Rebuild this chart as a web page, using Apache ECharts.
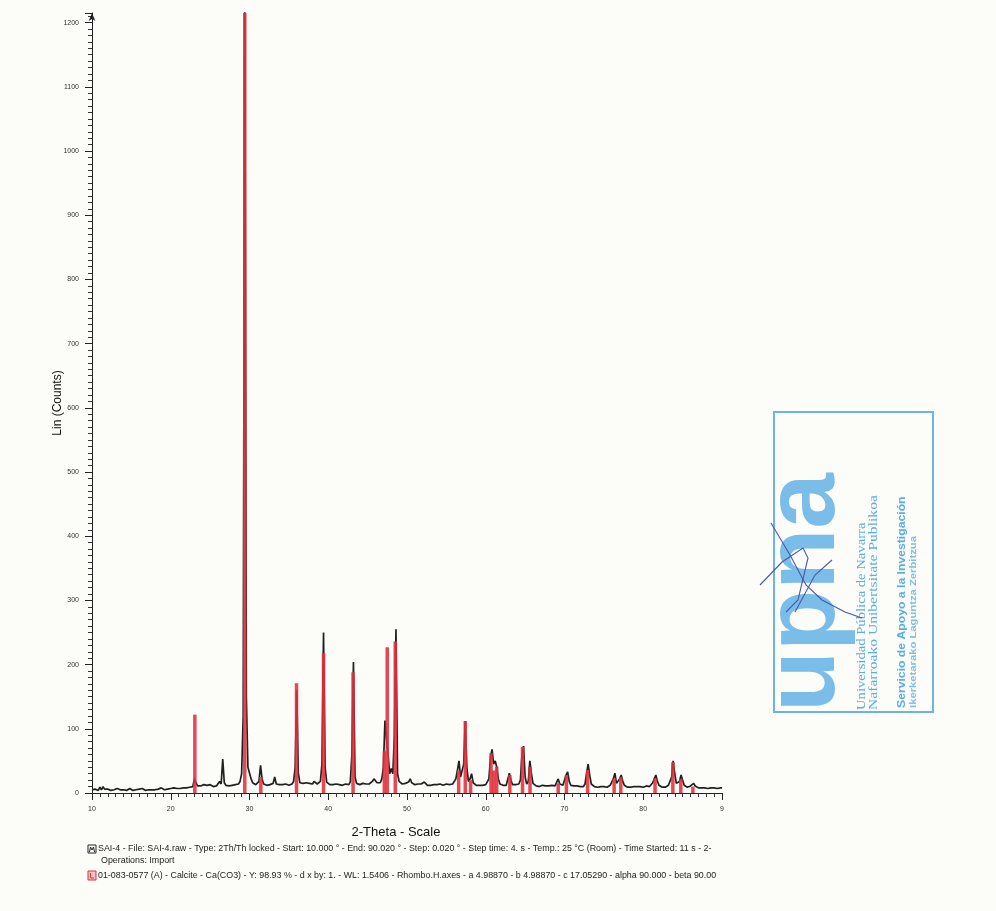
<!DOCTYPE html>
<html><head><meta charset="utf-8">
<script src="https://cdn.jsdelivr.net/npm/echarts/dist/echarts.min.js"></script>
<style>html,body{margin:0;padding:0;background:#fcfcf9}#c{width:996px;height:911px}</style>
</head><body><div id="c"></div><script>
const twoThetaStart = 10.0;
const twoThetaStep = 0.2;
const counts = [
  5,4,6,5,4,9,5,10,6,5,      // 10.0
  6,5,4,6,5,5,7,4,5,6,       // 12.0
  5,6,4,5,7,5,4,6,5,5,       // 14.0
  6,5,7,5,4,6,5,8,5,6,       // 16.0
  5,7,6,5,8,6,5,7,6,6,       // 18.0
  7,6,8,6,7,9,7,6,8,7,       // 20.0
  8,7,9,8,10,22,16,11,12,11, // 22.0
  11,13,10,12,11,13,12,10,12,11, // 24.0
  12,18,14,53,16,12,13,11,14,12, // 26.0
  14,13,15,14,18,30,120,1260,150,40, // 28.0
  38,22,16,14,13,14,18,43,22,14, // 30.0
  13,12,14,13,12,15,25,14,12,13, // 32.0
  12,13,12,14,13,12,13,14,18,40, // 34.0
  160,30,16,14,15,13,16,14,15,17, // 36.0
  14,18,15,14,15,18,45,250,40,17, // 38.0
  14,13,15,13,12,14,16,13,14,12, // 40.0
  13,14,12,13,17,60,204,25,15,14, // 42.0
  13,14,15,13,14,16,14,15,18,22, // 44.0
  19,16,15,16,22,40,113,85,60,30, // 46.0
  38,30,90,255,30,18,15,14,16,15, // 48.0
  15,17,22,16,14,13,15,14,12,14, // 50.0
  13,17,14,12,13,12,14,13,12,13, // 52.0
  12,14,13,12,13,14,12,13,15,14, // 54.0
  16,22,35,50,25,22,45,112,40,18, // 56.0
  22,30,16,13,12,14,12,13,12,14, // 58.0
  13,14,22,55,68,45,50,40,22,14, // 60.0
  13,12,14,12,15,31,20,13,12,13, // 62.0
  12,14,20,60,73,25,14,18,50,30, // 64.0
  15,12,11,12,10,11,12,10,11,10, // 66.0
  11,10,12,10,11,13,22,14,11,12, // 68.0
  13,28,33,18,12,10,11,10,11,9,  // 70.0
  10,11,10,14,30,45,28,14,11,10, // 72.0
  10,9,11,10,9,10,11,9,10,12,    // 74.0
  14,22,31,15,14,22,28,18,12,10, // 76.0
  9,10,9,11,10,9,10,8,10,9,      // 78.0
  9,10,11,9,10,12,16,22,28,18,   // 80.0
  12,10,9,10,9,10,12,14,25,50,   // 82.0
  30,15,12,18,28,20,12,10,9,10,  // 84.0
  11,14,15,11,9,8,9,8,9,8,       // 86.0
  8,7,9,8,7,8,9,7,8,8,           // 88.0
  8                              // 90.0
];
// Reference pattern 01-083-0577 Calcite: positions and intensities (counts)
const refPos = [23.06,29.40,31.44,35.97,39.40,43.15,47.12,47.49,48.51,56.56,57.40,58.08,60.67,61.00,61.39,63.06,64.67,65.62,69.20,70.24,72.94,76.30,77.15,81.50,83.76,84.77,86.30];
const refInt = [122,1215,25,171,218,188,65,227,236,35,112,20,62,35,41,28,72,41,15,28,36,23,25,23,48,22,10];

const legendLines = [
  'SAI-4 - File: SAI-4.raw - Type: 2Th/Th locked - Start: 10.000 \u00b0 - End: 90.020 \u00b0 - Step: 0.020 \u00b0 - Step time: 4. s - Temp.: 25 \u00b0C (Room) - Time Started: 11 s - 2-',
  'Operations: Import',
  '01-083-0577 (A) - Calcite - Ca(CO3) - Y: 98.93 % - d x by: 1. - WL: 1.5406 - Rhombo.H.axes - a 4.98870 - b 4.98870 - c 17.05290 - alpha 90.000 - beta 90.00'
];
const stampLines = [
  'Universidad P\u00fablica de Navarra',
  'Nafarroako Unibertsitate Publikoa',
  'Servicio de Apoyo a la Investigaci\u00f3n',
  'Ikerketarako Laguntza Zerbitzua'
];

const chart = echarts.init(document.getElementById('c'), null, {renderer:'canvas'});
const lineData = counts.map((c,i)=>[+(twoThetaStart + i*twoThetaStep).toFixed(2), c]);
const refData = refPos.map((p,i)=>[p, refInt[i]]);
const F = '"Liberation Sans", Arial, sans-serif';
const LF = '8.9px ' + F;

const option = {
  backgroundColor: '#fcfcf9',
  animation: false,
  grid: {left: 92, right: 274, top: 13, bottom: 118},
  xAxis: {
    type: 'value', min: 10, max: 90, interval: 10,
    name: '2-Theta - Scale', nameLocation: 'middle', nameGap: 33, nameMoveOverlap: false,
    nameTextStyle: {fontFamily: F, fontSize: 13, color: '#111', padding: [0, 22, 0, 0]},
    axisLine: {lineStyle: {color: '#222', width: 1}},
    axisTick: {length: 7, lineStyle: {color: '#222'}},
    minorTick: {show: true, splitNumber: 10, length: 4, lineStyle: {color: '#333'}},
    axisLabel: {fontFamily: F, fontSize: 7, color: '#333', margin: 13,
      formatter: v => v === 90 ? '9' : String(v)},
    splitLine: {show: false}
  },
  yAxis: {
    type: 'value', min: 0, max: 1215, interval: 100,
    name: 'Lin (Counts)', nameLocation: 'middle', nameGap: 28, nameRotate: 90, nameMoveOverlap: false,
    nameTextStyle: {fontFamily: F, fontSize: 12, color: '#111'},
    axisLine: {show: true, lineStyle: {color: '#222', width: 1}, symbol: ['none','arrow'], symbolSize: [5, 8]},
    axisTick: {length: 7, lineStyle: {color: '#222'}},
    minorTick: {show: true, splitNumber: 10, length: 4, lineStyle: {color: '#333'}},
    axisLabel: {fontFamily: F, fontSize: 7, color: '#333', margin: 13,
      formatter: v => (v % 100 === 0 ? String(v) : '')},
    splitLine: {show: false}
  },
  series: [
    {type: 'line', data: lineData, showSymbol: false, clip: true,
     lineStyle: {color: '#202020', width: 1.7}, z: 2},
    {type: 'bar', data: refData, barWidth: 3.5, clip: true,
     itemStyle: {color: 'rgba(226,48,60,0.88)'}, z: 3}
  ],
  graphic: [
    {type: 'rect', shape: {x: 88, y: 845, width: 8, height: 8}, style: {fill: '#fff', stroke: '#222', lineWidth: 1}},
    {type: 'polyline', shape: {points: [[89.5,852],[90.5,847],[92,850],[93.5,847],[94.5,852]]}, style: {stroke: '#222', lineWidth: 1, fill: null}},
    {type: 'text', x: 98, y: 849, style: {text: legendLines[0], font: LF, fill: '#222', verticalAlign: 'middle'}},
    {type: 'text', x: 101, y: 861, style: {text: legendLines[1], font: LF, fill: '#222', verticalAlign: 'middle'}},
    {type: 'rect', shape: {x: 88, y: 871, width: 8, height: 9}, style: {fill: '#f6c0c4', stroke: '#e0303c', lineWidth: 1}},
    {type: 'polyline', shape: {points: [[90.5,873],[90.5,878],[94,878]]}, style: {stroke: '#e0303c', lineWidth: 1, fill: null}},
    {type: 'text', x: 98, y: 876, style: {text: legendLines[2], font: LF, fill: '#222', verticalAlign: 'middle'}},
    // stamp
    {type: 'rect', shape: {x: 774, y: 412, width: 159, height: 300}, style: {fill: 'none', stroke: '#6cb4e4', lineWidth: 2}},
    {type: 'text', x: 806, y: 712, rotation: Math.PI/2, style: {text: 'upna', font: 'bold 100px ' + F, fill: '#79bde8', verticalAlign: 'middle'}},
    {type: 'text', x: 862, y: 710, rotation: Math.PI/2, scaleX: 1.22, style: {text: stampLines[0], font: '12px "Liberation Serif", serif', fill: '#5aaee0', verticalAlign: 'middle'}},
    {type: 'text', x: 874, y: 710, rotation: Math.PI/2, scaleX: 1.3, style: {text: stampLines[1], font: '12px "Liberation Serif", serif', fill: '#5aaee0', verticalAlign: 'middle'}},
    {type: 'text', x: 902, y: 708, rotation: Math.PI/2, scaleX: 1.22, style: {text: stampLines[2], font: 'bold 10px ' + F, fill: '#5aaee0', verticalAlign: 'middle'}},
    {type: 'text', x: 914, y: 708, rotation: Math.PI/2, scaleX: 1.25, style: {text: stampLines[3], font: 'bold 9px ' + F, fill: '#7cc0e8', verticalAlign: 'middle'}},
    {type: 'polyline', shape: {points: [[771,523],[790,555],[806,585],[822,600],[845,612],[862,618]]}, style: {stroke: '#4a58a8', lineWidth: 1.1, fill: null}},
    {type: 'polyline', shape: {points: [[760,585],[782,562],[803,548],[808,558],[798,600],[786,612]]}, style: {stroke: '#4a58a8', lineWidth: 1.1, fill: null}},
    {type: 'polyline', shape: {points: [[795,612],[815,575],[832,560]]}, style: {stroke: '#4a58a8', lineWidth: 1.1, fill: null}}
  ]
};
chart.setOption(option);
</script></body></html>
